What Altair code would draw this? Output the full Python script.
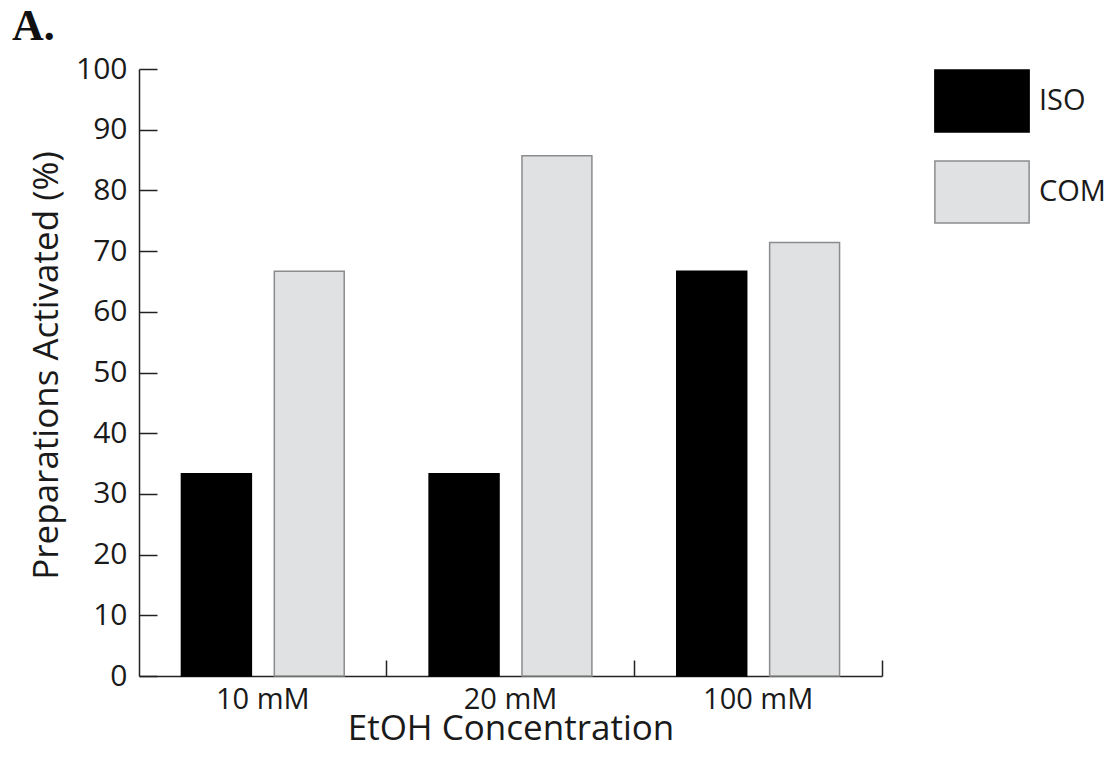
import altair as alt
import pandas as pd

concentrations = ["10 mM", "20 mM", "100 mM"]
groups = ["ISO", "COM"]
iso_values = [33.3, 33.3, 66.7]
com_values = [66.7, 85.7, 71.4]
y_ticks = [0, 10, 20, 30, 40, 50, 60, 70, 80, 90, 100]
panel_label = ["A."]

rows = []
for c, v in zip(concentrations, iso_values):
    rows.append({"conc": c, "group": "ISO", "value": v})
for c, v in zip(concentrations, com_values):
    rows.append({"conc": c, "group": "COM", "value": v})
df = pd.DataFrame(rows)

W, H = 743, 607
FONT = "Open Sans"
TXT = "#1a1a1a"

x_scale = alt.Scale(domain=concentrations, paddingInner=0, paddingOuter=0)
y_scale = alt.Scale(domain=[0, 100], nice=False)
off_scale = alt.Scale(domain=groups, paddingInner=0.247, paddingOuter=0.457)
fill_scale = alt.Scale(domain=groups, range=["#000000", "#dfe1e3"])
stroke_scale = alt.Scale(domain=groups, range=["#000000", "#8c8c8c"])

legend = alt.Legend(
    title=None,
    orient="right",
    offset=68,
    padding=0,
    symbolType="M-1.52,-1H1.52V1H-1.52Z",
    symbolSize=3844,
    symbolStrokeWidth=1.5,
    labelFont=FONT,
    labelFontSize=29,
    labelColor=TXT,
    labelOffset=25,
    rowPadding=23,
)

bars = alt.Chart(df).mark_bar(strokeWidth=1.5).encode(
    x=alt.X(
        "conc:N",
        scale=x_scale,
        sort=concentrations,
        axis=alt.Axis(
            orient="bottom",
            title="EtOH Concentration",
            ticks=False,
            labelAngle=0,
            labelFont=FONT,
            labelFontSize=29,
            labelColor=TXT,
            labelPadding=9,
            titleFont=FONT,
            titleFontSize=35,
            titleFontWeight="normal",
            titleColor=TXT,
            titleBaseline="alphabetic",
            titleY=63,
            domainColor="#222222",
            domainWidth=1.5,
            grid=False,
        ),
    ),
    xOffset=alt.XOffset("group:N", scale=off_scale, sort=groups),
    y=alt.Y(
        "value:Q",
        scale=y_scale,
        axis=alt.Axis(
            orient="left",
            values=y_ticks,
            ticks=False,
            grid=False,
            title="Preparations Activated (%)",
            labelFont=FONT,
            labelFontSize=30,
            labelColor=TXT,
            labelPadding=12,
            titleFont=FONT,
            titleFontSize=35,
            titleFontWeight="normal",
            titleColor=TXT,
            titleBaseline="alphabetic",
            titleAlign="center",
            titleAngle=-90,
            titleX=-82,
            titleY=296,
            domainColor="#222222",
            domainWidth=1.5,
        ),
    ),
    fill=alt.Fill("group:N", scale=fill_scale, sort=groups, legend=legend),
    stroke=alt.Stroke("group:N", scale=stroke_scale, sort=groups, legend=legend),
)

ticks = alt.Chart(df).mark_bar(opacity=0, strokeOpacity=0, fillOpacity=0).encode(
    x=alt.X(
        "conc:N",
        scale=x_scale,
        sort=concentrations,
        axis=alt.Axis(
            orient="top",
            offset=-H,
            bandPosition=1,
            labels=False,
            domain=False,
            ticks=True,
            tickSize=16,
            tickWidth=1.5,
            tickColor="#222222",
            title=None,
            grid=False,
        ),
    ),
    y=alt.Y(
        "value:Q",
        scale=y_scale,
        axis=alt.Axis(
            orient="right",
            offset=-W,
            values=y_ticks,
            labels=False,
            domain=False,
            tickSize=18,
            tickWidth=1.5,
            tickColor="#222222",
            title=None,
            grid=False,
        ),
    ),
)

label_df = pd.DataFrame({"label": panel_label})
panel = alt.Chart(label_df).mark_text(
    font="Liberation Serif",
    fontSize=44,
    fontWeight="bold",
    color="#111111",
    align="left",
    baseline="alphabetic",
).encode(
    text="label:N",
    x=alt.value(-127),
    y=alt.value(-29),
)

chart = (
    alt.layer(bars, ticks, panel)
    .resolve_axis(x="independent", y="independent")
    .properties(
        width=W,
        height=H,
        background="white",
        autosize=alt.AutoSizeParams(type="none"),
        padding={"left": 131, "top": 61, "right": 230, "bottom": 90},
    )
    .configure_view(stroke="transparent", strokeWidth=0)
)

chart.save("out.html", embed_options={"renderer": "svg", "actions": False})
